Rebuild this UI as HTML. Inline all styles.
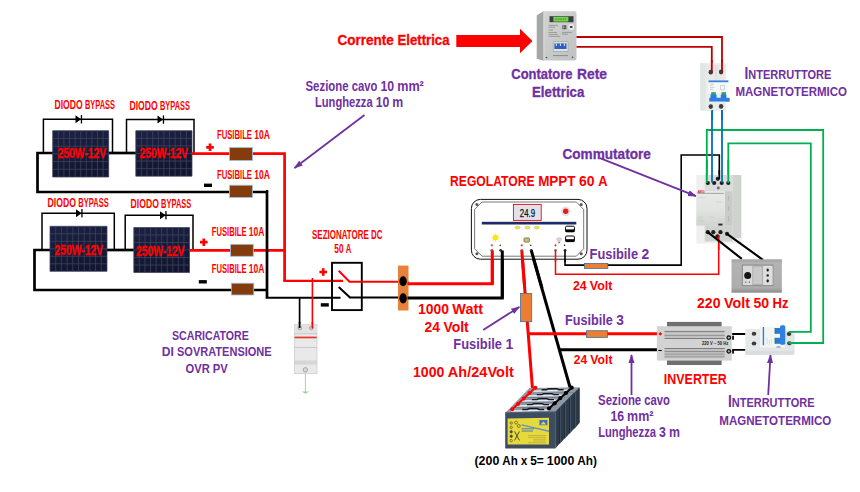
<!DOCTYPE html>
<html lang="it"><head><meta charset="utf-8"><title>Schema impianto fotovoltaico</title>
<style>
html,body{margin:0;padding:0;background:#fff;}
body{width:860px;height:492px;overflow:hidden;}
svg{display:block;font-family:"Liberation Sans",sans-serif;}
</style></head><body>
<svg width="860" height="492" viewBox="0 0 860 492">
<defs>
<pattern id="cells" x="0" y="0" width="5.6" height="7.75" patternUnits="userSpaceOnUse">
<rect width="5.6" height="7.75" fill="#4b5168"/>
<rect x="0.55" y="0.55" width="4.5" height="6.65" fill="#171c3a"/>
</pattern>
<linearGradient id="gpan" x1="0" y1="0" x2="0.3" y2="1"><stop offset="0" stop-color="#1c2242"/><stop offset="1" stop-color="#121630"/></linearGradient>
<linearGradient id="gmeter" x1="0" y1="0" x2="1" y2="1"><stop offset="0" stop-color="#d4d6d5"/><stop offset="0.5" stop-color="#c9cccb"/><stop offset="1" stop-color="#bfc2c1"/></linearGradient>
</defs>
<rect width="860" height="492" fill="#fff"/>

<g fill="none" stroke="#000" stroke-width="2.7" stroke-linejoin="miter">
<path d="M53 153H37.5V192H267"/>
<path d="M108 153H136"/>
<path d="M50 250H34.5V290H267"/>
<path d="M107 250H134"/>
</g>
<g fill="none" stroke="#000" stroke-width="1.5">
<path d="M43.4 153V119.3H112.5V153"/>
<path d="M126.5 153V119.6H194V153"/>
<path d="M42 250V213.2H114.3V250"/>
<path d="M125.2 250V215.2H193V250"/>
</g>
<path d="M75.5 115.3L81.0 119.3L75.5 123.3Z" fill="#000"/><rect x="80.8" y="115.1" width="1.3" height="8.4" fill="#000"/>
<path d="M157.5 115.6L163.0 119.6L157.5 123.6Z" fill="#000"/><rect x="162.8" y="115.39999999999999" width="1.3" height="8.4" fill="#000"/>
<path d="M76 209.2L81.5 213.2L76 217.2Z" fill="#000"/><rect x="81.3" y="209.0" width="1.3" height="8.4" fill="#000"/>
<path d="M160 211.2L165.5 215.2L160 219.2Z" fill="#000"/><rect x="165.3" y="211.0" width="1.3" height="8.4" fill="#000"/>
<g transform="translate(52.7,130.7)"><rect width="56.0" height="46.30000000000001" fill="url(#gpan)"/>
<path d="M0.00 0V46.30000000000001M5.60 0V46.30000000000001M11.20 0V46.30000000000001M16.80 0V46.30000000000001M22.40 0V46.30000000000001M28.00 0V46.30000000000001M33.60 0V46.30000000000001M39.20 0V46.30000000000001M44.80 0V46.30000000000001M50.40 0V46.30000000000001M56.00 0V46.30000000000001M0 0.00H56.0M0 7.72H56.0M0 15.43H56.0M0 23.15H56.0M0 30.87H56.0M0 38.58H56.0M0 46.30H56.0" stroke="#3f4560" stroke-width="0.75" fill="none"/></g>
<g transform="translate(135.8,130.7)"><rect width="56.19999999999999" height="45.5" fill="url(#gpan)"/>
<path d="M0.00 0V45.5M5.62 0V45.5M11.24 0V45.5M16.86 0V45.5M22.48 0V45.5M28.10 0V45.5M33.72 0V45.5M39.34 0V45.5M44.96 0V45.5M50.58 0V45.5M56.20 0V45.5M0 0.00H56.19999999999999M0 7.58H56.19999999999999M0 15.17H56.19999999999999M0 22.75H56.19999999999999M0 30.33H56.19999999999999M0 37.92H56.19999999999999M0 45.50H56.19999999999999" stroke="#3f4560" stroke-width="0.75" fill="none"/></g>
<g transform="translate(50,226.3)"><rect width="57" height="45.0" fill="url(#gpan)"/>
<path d="M0.00 0V45.0M5.70 0V45.0M11.40 0V45.0M17.10 0V45.0M22.80 0V45.0M28.50 0V45.0M34.20 0V45.0M39.90 0V45.0M45.60 0V45.0M51.30 0V45.0M57.00 0V45.0M0 0.00H57M0 7.50H57M0 15.00H57M0 22.50H57M0 30.00H57M0 37.50H57M0 45.00H57" stroke="#3f4560" stroke-width="0.75" fill="none"/></g>
<g transform="translate(133.8,227.5)"><rect width="55.69999999999999" height="45.0" fill="url(#gpan)"/>
<path d="M0.00 0V45.0M5.57 0V45.0M11.14 0V45.0M16.71 0V45.0M22.28 0V45.0M27.85 0V45.0M33.42 0V45.0M38.99 0V45.0M44.56 0V45.0M50.13 0V45.0M55.70 0V45.0M0 0.00H55.69999999999999M0 7.50H55.69999999999999M0 15.00H55.69999999999999M0 22.50H55.69999999999999M0 30.00H55.69999999999999M0 37.50H55.69999999999999M0 45.00H55.69999999999999" stroke="#3f4560" stroke-width="0.75" fill="none"/></g>
<g fill="none" stroke="#FF0000" stroke-width="2.7">
<path d="M191.5 153.7H284.6V280.7"/>
<path d="M283.3 280.9H343" stroke-width="2.1"/>
<path d="M189 250.3H284.6"/>
</g>
<g fill="none" stroke="#000" stroke-width="2.7">
<path d="M266 191.3H267V297.8"/>
<path d="M265.7 297.8H340.5" stroke-width="2.1"/>
<path d="M266 289.6H267"/>
</g>
<rect x="229.5" y="147.5" width="23.0" height="13.0" fill="#843C0C" stroke="#9DC3E6" stroke-width="0.8"/>
<rect x="229.5" y="185.2" width="23.0" height="12.300000000000011" fill="#843C0C" stroke="#9DC3E6" stroke-width="0.8"/>
<rect x="230.5" y="244.3" width="22.80000000000001" height="12.0" fill="#843C0C" stroke="#9DC3E6" stroke-width="0.8"/>
<rect x="231.3" y="283.2" width="22.5" height="11.800000000000011" fill="#843C0C" stroke="#9DC3E6" stroke-width="0.8"/>
<path d="M206.2 147.3H213.8M210 143.5V151.10000000000002" stroke="#FF0000" stroke-width="2.7" fill="none"/>
<path d="M204 185.3H212" stroke="#000" stroke-width="3.4" fill="none"/>
<path d="M200.0 242.2H207.60000000000002M203.8 238.39999999999998V246.0" stroke="#FF0000" stroke-width="2.7" fill="none"/>
<path d="M198.8 281.8H206.8" stroke="#000" stroke-width="3.4" fill="none"/>
<path d="M319.4 272H327.0M323.2 268.2V275.8" stroke="#FF0000" stroke-width="2.7" fill="none"/>
<path d="M320.8 304.9H328.8" stroke="#000" stroke-width="3.4" fill="none"/>
<text x="57.50" y="158.00" font-size="14.6" fill="#FF0000" font-weight="bold" textLength="48.80" lengthAdjust="spacingAndGlyphs" stroke="#FF0000" stroke-width="0.35">250W-12V</text>
<text x="139.50" y="158.00" font-size="14.6" fill="#FF0000" font-weight="bold" textLength="48.50" lengthAdjust="spacingAndGlyphs" stroke="#FF0000" stroke-width="0.35">250W-12V</text>
<text x="54.50" y="254.80" font-size="14.6" fill="#FF0000" font-weight="bold" textLength="48.50" lengthAdjust="spacingAndGlyphs" stroke="#FF0000" stroke-width="0.35">250W-12V</text>
<text x="136.00" y="255.80" font-size="14.6" fill="#FF0000" font-weight="bold" textLength="48.50" lengthAdjust="spacingAndGlyphs" stroke="#FF0000" stroke-width="0.35">250W-12V</text>
<g font-size="12.3" fill="#FF0000" font-weight="bold">
<text x="54.50" y="108.80" textLength="28.25" lengthAdjust="spacingAndGlyphs">DIODO</text>
<text x="84.97" y="108.80" textLength="30.03" lengthAdjust="spacingAndGlyphs">BYPASS</text>
</g>
<g font-size="12.3" fill="#FF0000" font-weight="bold">
<text x="129.50" y="110.30" textLength="28.25" lengthAdjust="spacingAndGlyphs">DIODO</text>
<text x="159.97" y="110.30" textLength="30.03" lengthAdjust="spacingAndGlyphs">BYPASS</text>
</g>
<g font-size="12.3" fill="#FF0000" font-weight="bold">
<text x="47.50" y="207.30" textLength="28.62" lengthAdjust="spacingAndGlyphs">DIODO</text>
<text x="78.37" y="207.30" textLength="30.43" lengthAdjust="spacingAndGlyphs">BYPASS</text>
</g>
<g font-size="12.3" fill="#FF0000" font-weight="bold">
<text x="130.50" y="208.00" textLength="28.39" lengthAdjust="spacingAndGlyphs">DIODO</text>
<text x="161.12" y="208.00" textLength="30.18" lengthAdjust="spacingAndGlyphs">BYPASS</text>
</g>
<g font-size="12.3" fill="#FF0000" font-weight="bold">
<text x="217.00" y="139.20" textLength="35.00" lengthAdjust="spacingAndGlyphs">FUSIBILE</text>
<text x="254.20" y="139.20" textLength="15.80" lengthAdjust="spacingAndGlyphs">10A</text>
</g>
<g font-size="12.3" fill="#FF0000" font-weight="bold">
<text x="217.00" y="178.50" textLength="35.00" lengthAdjust="spacingAndGlyphs">FUSIBILE</text>
<text x="254.20" y="178.50" textLength="15.80" lengthAdjust="spacingAndGlyphs">10A</text>
</g>
<g font-size="12.3" fill="#FF0000" font-weight="bold">
<text x="211.80" y="235.50" textLength="34.80" lengthAdjust="spacingAndGlyphs">FUSIBILE</text>
<text x="248.79" y="235.50" textLength="15.71" lengthAdjust="spacingAndGlyphs">10A</text>
</g>
<g font-size="12.3" fill="#FF0000" font-weight="bold">
<text x="211.80" y="272.90" textLength="34.80" lengthAdjust="spacingAndGlyphs">FUSIBILE</text>
<text x="248.79" y="272.90" textLength="15.71" lengthAdjust="spacingAndGlyphs">10A</text>
</g>
<rect x="332" y="262.8" width="29.8" height="47.3" fill="none" stroke="#000" stroke-width="1.9"/>
<path d="M338.7 270.7L350 282.3" stroke="#FF0000" stroke-width="2" fill="none"/>
<path d="M349.5 281.8H408.5" stroke="#FF0000" stroke-width="1.9" fill="none"/>
<path d="M338.7 287L350.5 298" stroke="#000" stroke-width="2" fill="none"/>
<path d="M350 297.5H399" stroke="#000" stroke-width="2" fill="none"/>
<g font-size="12.3" fill="#FF0000" font-weight="bold">
<text x="312.00" y="238.60" textLength="56.82" lengthAdjust="spacingAndGlyphs">SEZIONATORE</text>
<text x="371.06" y="238.60" textLength="11.44" lengthAdjust="spacingAndGlyphs">DC</text>
</g>
<g font-size="12.3" fill="#FF0000" font-weight="bold">
<text x="334.30" y="252.80" textLength="9.34" lengthAdjust="spacingAndGlyphs">50</text>
<text x="345.72" y="252.80" textLength="5.58" lengthAdjust="spacingAndGlyphs">A</text>
</g>
<path d="M299.6 298V328" stroke="#000" stroke-width="1.7"/>
<path d="M312.4 278V328" stroke="#FF0000" stroke-width="1.6"/>
<g><rect x="294.3" y="324.2" width="22.7" height="49.5" fill="#e9e9e9" stroke="#c4c4c4" stroke-width="0.6"/>
<rect x="294.3" y="324.2" width="22.7" height="9.5" fill="#e2e2e2"/>
<rect x="294.6" y="336.6" width="22.1" height="1.7" fill="#e8352a"/>
<path d="M294.3 333.8H317M294.3 347.5H317M294.3 361.2H317M294.3 363.8H317" stroke="#bdbdbd" stroke-width="0.7" fill="none"/>
<rect x="294.3" y="361.2" width="22.7" height="2.6" fill="#d6d6d6"/>
<circle cx="299.8" cy="328" r="1.9" fill="#cfcfcf" stroke="#8d8d8d" stroke-width="0.6"/><circle cx="311.3" cy="328" r="1.9" fill="#cfcfcf" stroke="#8d8d8d" stroke-width="0.6"/>
<circle cx="305.4" cy="369.8" r="2.2" fill="#d9d9d9" stroke="#8d8d8d" stroke-width="0.7"/></g>
<path d="M299.6 322V328" stroke="#000" stroke-width="1.7"/>
<path d="M312.4 322V328.5" stroke="#FF0000" stroke-width="1.6"/>
<path d="M305.4 373.8V392" stroke="#9fd09a" stroke-width="0.9"/><path d="M301.6 391.6H309.2L305.4 393.8Z" fill="#9fd09a"/>
<text x="172.00" y="339.90" font-size="12.6" fill="#7030A0" font-weight="bold" textLength="76.80" lengthAdjust="spacingAndGlyphs">SCARICATORE</text>
<g font-size="12.6" fill="#7030A0" font-weight="bold">
<text x="161.80" y="355.90" textLength="12.11" lengthAdjust="spacingAndGlyphs">DI</text>
<text x="176.96" y="355.90" textLength="94.74" lengthAdjust="spacingAndGlyphs">SOVRATENSIONE</text>
</g>
<g font-size="12.6" fill="#7030A0" font-weight="bold">
<text x="185.60" y="372.70" textLength="24.23" lengthAdjust="spacingAndGlyphs">OVR</text>
<text x="212.85" y="372.70" textLength="14.95" lengthAdjust="spacingAndGlyphs">PV</text>
</g>
<rect x="398" y="265.6" width="10.5" height="44.9" fill="#E8813B"/>
<ellipse cx="403.1" cy="281.2" rx="3.7" ry="5" fill="#000"/><ellipse cx="403.1" cy="298.3" rx="3.7" ry="5.1" fill="#000"/>
<path d="M407.5 283.7H492.3V251" stroke="#FF0000" stroke-width="3" fill="none"/>
<path d="M407.5 298H502.3V251" stroke="#000" stroke-width="3" fill="none"/>
<path d="M521.8 251L532.5 389" stroke="#FF0000" stroke-width="3" fill="none"/>
<path d="M531.3 251L570.5 389" stroke="#000" stroke-width="3" fill="none"/>
<path d="M527.8 333.8H657" stroke="#FF0000" stroke-width="3" fill="none"/>
<path d="M559.5 349.7H658" stroke="#000" stroke-width="3" fill="none"/>
<path d="M555.5 251V274.2H718.7V236" stroke="#FF0000" stroke-width="1.5" fill="none"/>
<path d="M565 251V265.1H681.2V155H719.3V179" stroke="#000" stroke-width="1.6" fill="none"/>
<rect x="520.6" y="293.4" width="11.100000000000023" height="28.30000000000001" fill="#ED7D31" stroke="#41719C" stroke-width="0.8"/>
<rect x="584.4" y="263.4" width="23.399999999999977" height="5.0" fill="#ED7D31" stroke="#41719C" stroke-width="0.8"/>
<rect x="586.4" y="330.7" width="21.0" height="6.699999999999989" fill="#ED7D31" stroke="#41719C" stroke-width="0.8"/>
<g>
<rect x="471.4" y="199.4" width="115.6" height="59.8" rx="9" ry="9" fill="#fff" stroke="#111" stroke-width="1"/>
<path d="M482 202H576.3L583.7 209.5V248.7L576.3 256.2H482L474.6 248.7V209.5Z" fill="#fff" stroke="#555" stroke-width="0.8"/>
<circle cx="476.9" cy="204.6" r="1.5" fill="#555"/>
<circle cx="581.2" cy="204.6" r="1.5" fill="#555"/>
<circle cx="476.9" cy="253.8" r="1.5" fill="#555"/>
<circle cx="581.2" cy="253.8" r="1.5" fill="#555"/>
<rect x="513.4" y="204.4" width="27.8" height="16" fill="#dfe3ee" stroke="#FF0000" stroke-width="0.9"/>
<text x="519.80" y="217.20" font-size="11" fill="#111" font-weight="normal" textLength="15.40" lengthAdjust="spacingAndGlyphs" stroke="#111" stroke-width="0.25">24.9</text>
<circle cx="565.7" cy="211.3" r="4.8" fill="#e2e2e2"/><circle cx="565.7" cy="211.3" r="2.7" fill="#f01818"/>
<rect x="481.8" y="221.8" width="94.5" height="2.7" fill="#1b2a6b"/>
<ellipse cx="517.5" cy="227.6" rx="2.5" ry="1.4" fill="#f2ea2a" stroke="#9a9a60" stroke-width="0.4"/>
<ellipse cx="527.5" cy="227.6" rx="2.5" ry="1.4" fill="#f2ea2a" stroke="#9a9a60" stroke-width="0.4"/>
<ellipse cx="536.8" cy="227.6" rx="2.5" ry="1.4" fill="#f2ea2a" stroke="#9a9a60" stroke-width="0.4"/>
<rect x="565.6" y="226.2" width="8.8" height="5.6" rx="1" fill="#fff" stroke="#000" stroke-width="1"/><rect x="565.6" y="229.39999999999998" width="8.8" height="2.6" fill="#000"/>
<rect x="565.6" y="236" width="8.8" height="5.6" rx="1" fill="#fff" stroke="#000" stroke-width="1"/><rect x="565.6" y="239.2" width="8.8" height="2.6" fill="#000"/>
<g stroke="#fbe800" stroke-width="0.9"><circle cx="495.6" cy="237.7" r="2.3" fill="#fbe800"/><path d="M495.5 233.6V241.6M491.5 237.6H499.5M492.7 234.8L498.3 240.4M498.3 234.8L492.7 240.4"/></g>
<rect x="524" y="237.9" width="5.4" height="4.2" rx="0.6" fill="#cdbf63" stroke="#6d6d6d" stroke-width="0.8"/>
<path d="M556 239.2A3.1 2 0 0 1 562.2 239.2L560.1 242H558.1Z" fill="#d4d4d4"/><rect x="558.1" y="241.8" width="2" height="1.5" fill="#8a8a8a"/>
<path d="M490.6 245.3H493.0M491.8 244.1V246.5" stroke="#FF0000" stroke-width="0.7"/>
<circle cx="500.2" cy="245.2" r="0.7" fill="#000"/>
<circle cx="491.8" cy="250.3" r="1.4" fill="#777"/><circle cx="500.7" cy="250.3" r="1.4" fill="#333"/>
<path d="M520.5999999999999 245.3H523.0M521.8 244.1V246.5" stroke="#FF0000" stroke-width="0.7"/>
<circle cx="530.8" cy="245.2" r="0.7" fill="#000"/>
<circle cx="521.8" cy="250.3" r="1.4" fill="#777"/><circle cx="531.3" cy="250.3" r="1.4" fill="#333"/>
<path d="M554.3 245.3H556.7M555.5 244.1V246.5" stroke="#FF0000" stroke-width="0.7"/>
<circle cx="564.6" cy="245.2" r="0.7" fill="#000"/>
<circle cx="555.5" cy="250.3" r="1.4" fill="#777"/><circle cx="565.1" cy="250.3" r="1.4" fill="#333"/>
</g>
<path d="M492.3 283.7V250.5" stroke="#FF0000" stroke-width="3" fill="none"/>
<path d="M502.3 298V250.5" stroke="#000" stroke-width="3" fill="none"/>
<path d="M521.8 250.5L524.7 288" stroke="#FF0000" stroke-width="3" fill="none"/>
<path d="M531.3 250.5L542 288" stroke="#000" stroke-width="3" fill="none"/>
<path d="M555.5 250.5V262" stroke="#FF0000" stroke-width="1.5" fill="none"/>
<path d="M565 250.5V262" stroke="#000" stroke-width="1.6" fill="none"/>
<g font-size="13.8" fill="#FF0000" font-weight="bold">
<text x="450.00" y="185.70" textLength="84.66" lengthAdjust="spacingAndGlyphs">REGOLATORE</text>
<text x="538.14" y="185.70" textLength="37.45" lengthAdjust="spacingAndGlyphs">MPPT</text>
<text x="579.07" y="185.70" textLength="15.62" lengthAdjust="spacingAndGlyphs">60</text>
<text x="598.17" y="185.70" textLength="9.33" lengthAdjust="spacingAndGlyphs">A</text>
</g>
<g font-size="13.8" fill="#7030A0" font-weight="bold">
<text x="589.60" y="259.00" textLength="48.49" lengthAdjust="spacingAndGlyphs">Fusibile</text>
<text x="641.55" y="259.00" textLength="7.75" lengthAdjust="spacingAndGlyphs">2</text>
</g>
<g font-size="13.1" fill="#FF0000" font-weight="bold">
<text x="573.00" y="289.90" textLength="13.74" lengthAdjust="spacingAndGlyphs">24</text>
<text x="589.80" y="289.90" textLength="22.70" lengthAdjust="spacingAndGlyphs">Volt</text>
</g>
<g font-size="13.8" fill="#FF0000" font-weight="bold">
<text x="418.00" y="313.70" textLength="30.90" lengthAdjust="spacingAndGlyphs">1000</text>
<text x="452.35" y="313.70" textLength="30.65" lengthAdjust="spacingAndGlyphs">Watt</text>
</g>
<g font-size="13.8" fill="#FF0000" font-weight="bold">
<text x="424.60" y="331.60" textLength="15.37" lengthAdjust="spacingAndGlyphs">24</text>
<text x="443.40" y="331.60" textLength="25.40" lengthAdjust="spacingAndGlyphs">Volt</text>
</g>
<g font-size="13.8" fill="#7030A0" font-weight="bold">
<text x="453.30" y="348.60" textLength="48.74" lengthAdjust="spacingAndGlyphs">Fusibile</text>
<text x="505.51" y="348.60" textLength="7.79" lengthAdjust="spacingAndGlyphs">1</text>
</g>
<g font-size="13.8" fill="#FF0000" font-weight="bold">
<text x="413.00" y="376.60" textLength="31.37" lengthAdjust="spacingAndGlyphs">1000</text>
<text x="447.87" y="376.60" textLength="65.93" lengthAdjust="spacingAndGlyphs">Ah/24Volt</text>
</g>
<g font-size="13.8" fill="#7030A0" font-weight="bold">
<text x="565.00" y="324.50" textLength="47.76" lengthAdjust="spacingAndGlyphs">Fusibile</text>
<text x="616.17" y="324.50" textLength="7.63" lengthAdjust="spacingAndGlyphs">3</text>
</g>
<g font-size="13.1" fill="#FF0000" font-weight="bold">
<text x="573.80" y="364.20" textLength="13.46" lengthAdjust="spacingAndGlyphs">24</text>
<text x="590.26" y="364.20" textLength="22.24" lengthAdjust="spacingAndGlyphs">Volt</text>
</g>
<defs><marker id="ah" viewBox="0 0 10 10" refX="9" refY="5" markerWidth="5" markerHeight="5" orient="auto-start-reverse"><path d="M0 1.6L10 5L0 8.4Z" fill="#7030A0"/></marker></defs>
<path d="M364.5 115L294.5 168" stroke="#7030A0" stroke-width="1.8" fill="none" marker-end="url(#ah)"/>
<path d="M483.2 330L519.3 307" stroke="#7030A0" stroke-width="1.8" fill="none" marker-end="url(#ah)"/>
<path d="M631.5 395L631.5 355" stroke="#7030A0" stroke-width="1.8" fill="none" marker-end="url(#ah)"/>
<path d="M768.2 395L770.5 355" stroke="#7030A0" stroke-width="1.8" fill="none" marker-end="url(#ah)"/>
<path d="M600 158.2L696 196.2" stroke="#7030A0" stroke-width="1.8" fill="none" marker-end="url(#ah)"/>
<g>
<path d="M524.6 393.0L574.7 392.1L579.5 387.2L529.5 388.1Z" fill="#8f9aa6"/>
<path d="M530.6 391.2L568.7 390.3" stroke="#e6eaee" stroke-width="1.5"/>
<path d="M541.6 389.7h5l2 -1h8l2 1h5" stroke="#15191e" stroke-width="1.4" fill="none"/>
<path d="M574.7 392.1L579.5 387.2V423.1L574.7 428.6Z" fill="#2d3a49"/>
<path d="M524.6 393.0L574.7 392.1V428.6H524.6Z" fill="#3d4c5e"/>
<path d="M575.0 392.6V428.1" stroke="#5b6d82" stroke-width="0.8"/>
<path d="M579.1 388.2V422.7" stroke="#1d2731" stroke-width="0.8"/>
<path d="M519.8 397.9L569.8 397.0L574.7 392.2L524.6 393.1Z" fill="#8f9aa6"/>
<path d="M525.8 396.1L563.8 395.2" stroke="#e6eaee" stroke-width="1.5"/>
<path d="M536.8 394.6h5l2 -1h8l2 1h5" stroke="#15191e" stroke-width="1.4" fill="none"/>
<path d="M569.8 397.0L574.7 392.2V428.1L569.8 433.5Z" fill="#2d3a49"/>
<path d="M519.8 397.9L569.8 397.0V433.5H519.8Z" fill="#3d4c5e"/>
<path d="M570.1 397.5V433.0" stroke="#5b6d82" stroke-width="0.8"/>
<path d="M574.3 393.2V427.7" stroke="#1d2731" stroke-width="0.8"/>
<path d="M514.9 402.9L565.0 402.0L569.9 397.1L519.8 398.1Z" fill="#8f9aa6"/>
<path d="M520.9 401.1L559.0 400.2" stroke="#e6eaee" stroke-width="1.5"/>
<path d="M531.9 399.6h5l2 -1h8l2 1h5" stroke="#15191e" stroke-width="1.4" fill="none"/>
<path d="M565.0 402.0L569.9 397.1V433.0L565.0 438.5Z" fill="#2d3a49"/>
<path d="M514.9 402.9L565.0 402.0V438.5H514.9Z" fill="#3d4c5e"/>
<path d="M565.3 402.5V438.0" stroke="#5b6d82" stroke-width="0.8"/>
<path d="M569.5 398.1V432.6" stroke="#1d2731" stroke-width="0.8"/>
<path d="M510.1 407.9L560.1 406.9L565.0 402.1L514.9 403.0Z" fill="#8f9aa6"/>
<path d="M516.0 406.1L554.1 405.1" stroke="#e6eaee" stroke-width="1.5"/>
<path d="M527.0 404.6h5l2 -1h8l2 1h5" stroke="#15191e" stroke-width="1.4" fill="none"/>
<path d="M560.1 406.9L565.0 402.1V438.0L560.1 443.4Z" fill="#2d3a49"/>
<path d="M510.1 407.9L560.1 406.9V443.4H510.1Z" fill="#3d4c5e"/>
<path d="M560.4 407.4V442.9" stroke="#5b6d82" stroke-width="0.8"/>
<path d="M564.6 403.1V437.6" stroke="#1d2731" stroke-width="0.8"/>
<path d="M505.2 412.8L555.3 411.9L560.1 407.0L510.1 407.9Z" fill="#8f9aa6"/>
<path d="M511.2 411.0L549.3 410.1" stroke="#e6eaee" stroke-width="1.5"/>
<path d="M522.2 409.5h5l2 -1h8l2 1h5" stroke="#15191e" stroke-width="1.4" fill="none"/>
<path d="M555.3 411.9L560.1 407.0V442.9L555.3 448.4Z" fill="#2d3a49"/>
<path d="M505.2 412.8L555.3 411.9V448.4H505.2Z" fill="#3d4c5e"/>
<path d="M555.6 412.4V447.9" stroke="#5b6d82" stroke-width="0.8"/>
<path d="M559.8 408.0V442.5" stroke="#1d2731" stroke-width="0.8"/>
<path d="M505.2 412.8L555.3 411.9" stroke="#4f6074" stroke-width="1.2"/>
<path d="M507.6 418.6L549 417.8V444.6H507.6Z" fill="#e7d83c"/>
<path d="M521.5 424.2L549 430.6V432L521.5 425.6Z" fill="#5b8fd0"/>
<rect x="539.4" y="420" width="8" height="5.2" fill="#3d6fc4"/><path d="M540.5 424.6L543.4 421.5L546.3 424.6Z" fill="#e7d83c"/>
<g fill="none" stroke="#3f4230" stroke-width="0.6"><circle cx="511.2" cy="423" r="1.2"/><circle cx="511.2" cy="427.4" r="1.2"/><circle cx="511.2" cy="431.8" r="1.2" fill="#3b4a7a"/><circle cx="511.2" cy="436.2" r="1.2" fill="#3b4a7a"/><circle cx="511.2" cy="440.6" r="1.2"/><path d="M514.6 431.4L519.4 440.4M519.4 431.4L514.6 440.4" stroke-width="0.9"/><circle cx="516" cy="422.6" r="1.5"/><circle cx="518.8" cy="426" r="1.5"/></g>
<path d="M521.5 428.8H534M521.5 431H533" stroke="#3d6fc4" stroke-width="0.9"/>
<path d="M528 435.5H546M528 437.3H546M533 439.2H546M533 441H546M528 442.8H546" stroke="#9c9440" stroke-width="0.5"/>
<path d="M535.4 387.7L512.2 409.3" stroke="#FF0000" stroke-width="2" fill="none"/>
<path d="M571.7 387.7L549 408.5" stroke="#000" stroke-width="2" fill="none"/>
<circle cx="512.2" cy="409.3" r="2" fill="#FF0000"/>
<circle cx="549.0" cy="408.5" r="2.1" fill="#000"/>
<circle cx="518.0" cy="403.9" r="2" fill="#FF0000"/>
<circle cx="554.7" cy="403.3" r="2.1" fill="#000"/>
<circle cx="523.8" cy="398.5" r="2" fill="#FF0000"/>
<circle cx="560.3" cy="398.1" r="2.1" fill="#000"/>
<circle cx="529.6" cy="393.1" r="2" fill="#FF0000"/>
<circle cx="566.0" cy="392.9" r="2.1" fill="#000"/>
<circle cx="535.4" cy="387.7" r="2" fill="#FF0000"/>
<circle cx="571.7" cy="387.7" r="2.1" fill="#000"/>
</g>
<g font-size="13.1" fill="#000" font-weight="bold">
<text x="474.50" y="465.00" textLength="24.80" lengthAdjust="spacingAndGlyphs">(200</text>
<text x="502.36" y="465.00" textLength="15.46" lengthAdjust="spacingAndGlyphs">Ah</text>
<text x="520.88" y="465.00" textLength="6.22" lengthAdjust="spacingAndGlyphs">x</text>
<text x="530.16" y="465.00" textLength="13.60" lengthAdjust="spacingAndGlyphs">5=</text>
<text x="546.82" y="465.00" textLength="27.44" lengthAdjust="spacingAndGlyphs">1000</text>
<text x="577.32" y="465.00" textLength="19.68" lengthAdjust="spacingAndGlyphs">Ah)</text>
</g>
<g>
<rect x="667" y="321.9" width="54.6" height="43.1" fill="#6f6f6f"/>
<rect x="656.9" y="326.2" width="74.9" height="34.4" fill="#d3d3d3"/>
<path d="M664.5 331.4H724.7M664.5 335.7H724.7M664.5 338.5H724.7M664.5 348.5H724.7M664.5 351.3H724.7M664.5 354.1H724.7M664.5 356.9H724.7" stroke="#7d7d7d" stroke-width="1" fill="none"/>
<path d="M664.5 332.6H724.7M664.5 334.5H724.7M664.5 337.1H724.7M664.5 349.9H724.7M664.5 352.7H724.7M664.5 355.5H724.7" stroke="#bdbdbd" stroke-width="1.3" fill="none"/>
<text x="702" y="344.8" font-size="5" font-weight="bold" fill="#222" textLength="26.3" lengthAdjust="spacingAndGlyphs">220 V ~ 50 Hz</text>
<path d="M660.3 331.9L662.1 333.8L660.3 335.7L658.5 333.8Z" fill="#FF0000"/>
<path d="M658.4 350.5H661.7" stroke="#000" stroke-width="1.1"/>
<circle cx="728.8" cy="337.7" r="2.4" fill="#111"/><circle cx="728.8" cy="351.3" r="2.4" fill="#111"/>
<path d="M727.6 337.7H730M728.8 336.5V338.9M727.6 351.3H730M728.8 350.1V352.5" stroke="#ddd" stroke-width="0.7"/>
</g>
<path d="M732.2 334H745.5M732.2 349.9H745.5" stroke="#000" stroke-width="1.9" fill="none"/>
<rect x="732.2" y="335.7" width="1.7" height="4.1" fill="#000"/><rect x="732.2" y="349.7" width="1.7" height="3.9" fill="#000"/>
<text x="663.80" y="384.40" font-size="13.8" fill="#FF0000" font-weight="bold" textLength="63.00" lengthAdjust="spacingAndGlyphs">INVERTER</text>
<g font-size="13.8" fill="#FF0000" font-weight="bold">
<text x="697.00" y="307.90" textLength="23.52" lengthAdjust="spacingAndGlyphs">220</text>
<text x="724.02" y="307.90" textLength="25.90" lengthAdjust="spacingAndGlyphs">Volt</text>
<text x="753.42" y="307.90" textLength="15.68" lengthAdjust="spacingAndGlyphs">50</text>
<text x="772.59" y="307.90" textLength="15.91" lengthAdjust="spacingAndGlyphs">Hz</text>
</g>
<g>
<rect x="745.4" y="329.1" width="15" height="25.7" fill="#e6e9e9"/>
<rect x="745.4" y="350.8" width="49" height="4" fill="#d9dddd"/>
<rect x="785" y="330.7" width="9.6" height="20.5" fill="#e3e6e6"/>
<rect x="760" y="326.5" width="25.2" height="21.2" fill="#f3f5f5"/>
<rect x="760" y="347.4" width="25.2" height="3.6" fill="#e4e7e7"/>
<rect x="762.7" y="327" width="1.4" height="18.3" fill="#3a7bd5"/>
<path d="M767 338V344M769.5 340V345M771.5 339V343" stroke="#c3cbd6" stroke-width="0.5"/>
<rect x="774.6" y="328" width="1.4" height="5.8" fill="#1f8a3a"/><rect x="774.6" y="337.8" width="1.4" height="6" fill="#1f8a3a"/>
<rect x="775.6" y="328" width="5.4" height="5.8" fill="#2b78dc"/><rect x="775.6" y="337.8" width="5.4" height="6" fill="#2b78dc"/>
<rect x="780" y="325.2" width="5.3" height="19.6" rx="1.6" fill="#2f80e0"/>
<rect x="776.5" y="346.5" width="4" height="1" fill="#4a7fd0"/>
<ellipse cx="754" cy="333.8" rx="2.3" ry="2" fill="#3a3d3d"/>
<ellipse cx="754" cy="343.5" rx="2.3" ry="2" fill="#3a3d3d"/>
<ellipse cx="789" cy="334.1" rx="2.3" ry="2" fill="#3a3d3d"/>
<ellipse cx="789.4" cy="343.3" rx="2.3" ry="2" fill="#3a3d3d"/>
</g>
<g fill="none" stroke="#00B050" stroke-width="1.8">
<path d="M788.5 331.8H810.8V143.3H728.3V182.5"/>
<path d="M788.5 343H823.2V130H706.8V182.5"/>
</g>
<text x="719.30" y="425.00" font-size="13.4" fill="#7030A0" font-weight="bold" textLength="112.00" lengthAdjust="spacingAndGlyphs">MAGNETOTERMICO</text>
<text y="407.4" fill="#7030A0" font-weight="bold" textLength="86.5" lengthAdjust="spacingAndGlyphs" x="728" font-size="13.4"><tspan font-size="16.8">I</tspan>NTERRUTTORE</text>
<defs><linearGradient id="gcom" x1="0" y1="0" x2="0" y2="1"><stop offset="0" stop-color="#e8e9e8"/><stop offset="0.55" stop-color="#e1e3e1"/><stop offset="1" stop-color="#d0d3d0"/></linearGradient></defs>
<g>
<rect x="696.3" y="175" width="45.7" height="68.5" fill="#eeefee"/>
<rect x="732.5" y="175" width="8.5" height="63" fill="#cfd2cf"/>
<rect x="704.7" y="175" width="27.8" height="16.5" fill="#dadcda"/>
<rect x="704.7" y="225.5" width="27.8" height="16" fill="#cfd3cf"/>
<rect x="725" y="191.3" width="7.5" height="34.3" fill="#c8cbc9"/>
<rect x="696.3" y="191.3" width="28.7" height="34.3" fill="url(#gcom)"/>
<path d="M697.5 193.4H724" stroke="#7f8f88" stroke-width="0.7"/>
<text x="697.4" y="193.1" font-size="3.2" font-weight="bold" fill="#d61f26" textLength="7.4" lengthAdjust="spacingAndGlyphs">AEG</text>
<rect x="718.3" y="223.6" width="4.2" height="1.9" fill="#2b2b2b"/>
<path d="M698 197.5H706M716 202H722M698 217H703M698 219H701M698 221H704M709 217H714" stroke="#c2c6c3" stroke-width="0.5"/>
<path d="M728.6 196V201M728.6 206V211M728.6 216V221" stroke="#b3b7b4" stroke-width="1"/>
<circle cx="707.8" cy="183" r="2.1" fill="#1e1e1e"/>
<circle cx="714.2" cy="183" r="2.1" fill="#1e1e1e"/>
<circle cx="721.7" cy="183" r="2.1" fill="#1e1e1e"/>
<circle cx="728.3" cy="183" r="2.1" fill="#1e1e1e"/>
<circle cx="717.8" cy="178.8" r="2.1" fill="#1e1e1e"/>
<circle cx="718.3" cy="188" r="1.4" fill="#666"/>
<circle cx="707.8" cy="232.2" r="2.1" fill="#1e1e1e"/>
<circle cx="713.3" cy="232.2" r="2.1" fill="#1e1e1e"/>
<circle cx="720.5" cy="232.2" r="2.1" fill="#1e1e1e"/>
<circle cx="727" cy="233.8" r="2.1" fill="#1e1e1e"/>
<circle cx="717.5" cy="236.3" r="2.1" fill="#1e1e1e"/>
</g>
<g fill="none" stroke="#00B050" stroke-width="1.8"><path d="M728.3 160V183M706.8 160V183"/></g>
<g fill="none" stroke="#0070C0" stroke-width="1.8"><path d="M712 110V182.5M722 110V182.5"/></g>
<path d="M719.3 170V179" stroke="#000" stroke-width="1.6"/>
<path d="M718.7 250V235.5" stroke="#FF0000" stroke-width="1.6"/>
<path d="M707.8 232.2L741.8 258.9M727 233.8L762.9 259.8" stroke="#000" stroke-width="2.1" fill="none"/>
<text x="562.50" y="159.40" font-size="14.0" fill="#7030A0" font-weight="bold" textLength="88.30" lengthAdjust="spacingAndGlyphs" stroke="#7030A0" stroke-width="0.3">Commutatore</text>
<defs><linearGradient id="gsock" x1="0" y1="0" x2="0" y2="1"><stop offset="0" stop-color="#a2a2a2"/><stop offset="0.12" stop-color="#b3b3b3"/><stop offset="0.85" stop-color="#adadad"/><stop offset="1" stop-color="#8c8c8c"/></linearGradient></defs>
<g>
<rect x="731.5" y="259.3" width="50.4" height="33.4" fill="url(#gsock)"/>
<rect x="742.3" y="265.1" width="30.6" height="20.6" fill="#d6d6d6" stroke="#7c7c7c" stroke-width="0.8"/>
<rect x="743.2" y="266" width="8.9" height="18.8" fill="#dadada"/>
<rect x="752.9" y="266" width="9.5" height="18.8" fill="#c9c9c9" stroke="#8d8d8d" stroke-width="0.5"/>
<rect x="763.4" y="266" width="9.1" height="18.8" fill="#dedede"/>
<circle cx="747.7" cy="275.4" r="3.5" fill="#151515"/>
<circle cx="745.8" cy="282.1" r="0.6" fill="#333"/><circle cx="749.5" cy="282.1" r="0.6" fill="#333"/>
<ellipse cx="767.7" cy="270" rx="1.2" ry="1.6" fill="#1a1a1a"/><circle cx="767.7" cy="275.4" r="1.2" fill="#1a1a1a"/><ellipse cx="767.7" cy="280.8" rx="1.2" ry="1.6" fill="#1a1a1a"/>
</g>
<path d="M456.3 35H520V28.8L532.5 40.9L520 53.2V47H456.3Z" fill="#FF0000"/>
<text x="337.50" y="45.00" font-size="14.2" fill="#FF0000" font-weight="bold" textLength="56.30" lengthAdjust="spacingAndGlyphs" stroke="#FF0000" stroke-width="0.3">Corrente</text>
<text x="397.50" y="45.00" font-size="14.2" fill="#FF0000" font-weight="bold" textLength="52.00" lengthAdjust="spacingAndGlyphs" stroke="#FF0000" stroke-width="0.3">Elettrica</text>
<g>
<path d="M536.8 15.6L543.5 11.2H574.3Q576.5 11.2 576.5 13.4V58Q576.5 60.5 574 60.5H543.5L536.8 58.8Z" fill="url(#gmeter)"/>
<path d="M536.8 15.6L543.5 11.2V60.5L536.8 58.8Z" fill="#a4a7a5"/>
<path d="M543.9 11.6V60.2" stroke="#e3e5e4" stroke-width="0.7"/>
<rect x="549.5" y="16.2" width="24" height="6" fill="#3a3f3d"/>
<rect x="553.4" y="16.8" width="15" height="4.8" fill="#72d24c"/>
<path d="M555.5 19.2H566" stroke="#4da534" stroke-width="1.4" stroke-dasharray="1.6 0.8"/>
<path d="M548.6 25.4H558M548.6 27.2H555M548.6 30H553M548.6 32.5H557M548.6 34.5H558M548.6 36.4H560M562 32.4H572M562 34.2H568" stroke="#777a78" stroke-width="0.6"/>
<rect x="562.3" y="25.3" width="4" height="3.9" fill="#4c4f4d"/><path d="M563.6 25.3V29.2M562.3 27.2H566.3" stroke="#c9cbca" stroke-width="0.5"/>
<circle cx="571.2" cy="27" r="3" fill="#e9ebea"/><ellipse cx="571.2" cy="27" rx="1.5" ry="1.1" fill="#2a2c2b"/>
<rect x="553.2" y="41.8" width="14.8" height="9.6" fill="#e1e3e2" stroke="#9a9d9b" stroke-width="0.6"/>
<rect x="554.4" y="43.4" width="12.1" height="5.6" fill="#2e5fc2"/>
<path d="M556.4 43.4V46M560.4 43.4V46M564.4 43.4V46" stroke="#dfe6f5" stroke-width="1"/>
<path d="M553 55.6H568" stroke="#6f7270" stroke-width="0.7"/>
<circle cx="546.5" cy="57.5" r="0.8" fill="#444"/><circle cx="572.5" cy="57.3" r="0.8" fill="#444"/>
</g>
<g fill="none" stroke="#C00000" stroke-width="1.8">
<path d="M576.5 37H722V72"/>
<path d="M576.5 46.8H711.8V72"/>
</g>
<text x="511.30" y="79.40" font-size="14.0" fill="#7030A0" font-weight="bold" textLength="61.20" lengthAdjust="spacingAndGlyphs" stroke="#7030A0" stroke-width="0.3">Contatore</text>
<text x="577.00" y="79.40" font-size="14.0" fill="#7030A0" font-weight="bold" textLength="30.00" lengthAdjust="spacingAndGlyphs" stroke="#7030A0" stroke-width="0.3">Rete</text>
<text x="532.00" y="96.60" font-size="14.0" fill="#7030A0" font-weight="bold" textLength="52.30" lengthAdjust="spacingAndGlyphs" stroke="#7030A0" stroke-width="0.3">Elettrica</text>
<g>
<rect x="700.3" y="62.9" width="25.4" height="47.7" rx="0.8" fill="#eceeed"/>
<rect x="700.3" y="62.9" width="5.3" height="47.7" fill="#e2e5e4"/>
<rect x="705.6" y="65" width="20.1" height="15.1" fill="#e7e9e8"/>
<path d="M716 65V80" stroke="#d2d5d4" stroke-width="0.6"/>
<rect x="708.5" y="80.1" width="19.9" height="13.4" fill="#f6f7f7"/>
<rect x="708.5" y="80.4" width="19.9" height="1.8" fill="#3b7dd8"/>
<path d="M710 84H714M710 85.8H713M710 87.6H714.5M710 89.4H713M720.5 85.5H724.5V89.8H720.5Z" stroke="#a5aeb8" stroke-width="0.5" fill="none"/>
<rect x="711.2" y="92.2" width="4.6" height="2.6" fill="#27a549"/><rect x="721.5" y="92.2" width="4.5" height="2.6" fill="#27a549"/>
<rect x="710.5" y="94.5" width="6" height="4.4" fill="#2b78dc"/><rect x="720.8" y="94.5" width="5.6" height="4.4" fill="#2b78dc"/>
<rect x="709.2" y="97.8" width="20.5" height="3.9" rx="0.8" fill="#2e7de0"/>
<rect x="705.6" y="101.7" width="20.1" height="8.9" fill="#e9ebea"/>
<ellipse cx="710.8" cy="72.2" rx="2.2" ry="2.4" fill="#3a3c3b"/>
<ellipse cx="721.1" cy="72" rx="2.2" ry="2.4" fill="#3a3c3b"/>
<ellipse cx="710.8" cy="106.6" rx="2.2" ry="2.4" fill="#3a3c3b"/>
<ellipse cx="721.1" cy="106.4" rx="2.2" ry="2.4" fill="#3a3c3b"/>
</g>
<g fill="none" stroke="#C00000" stroke-width="1.8"><path d="M722 60V72.5M711.8 60V72.5"/></g>
<g fill="none" stroke="#0070C0" stroke-width="1.8"><path d="M712.2 110V120M722 110V120"/></g>
<text x="735.50" y="96.20" font-size="13.4" fill="#7030A0" font-weight="bold" textLength="111.50" lengthAdjust="spacingAndGlyphs">MAGNETOTERMICO</text>
<text y="79.4" fill="#7030A0" font-weight="bold" textLength="86.8" lengthAdjust="spacingAndGlyphs" x="744.5" font-size="13.4"><tspan font-size="16.6">I</tspan>NTERRUTTORE</text>
<g font-size="13.8" fill="#7030A0" font-weight="bold">
<text x="305.50" y="91.20" textLength="43.15" lengthAdjust="spacingAndGlyphs">Sezione</text>
<text x="351.71" y="91.20" textLength="25.64" lengthAdjust="spacingAndGlyphs">cavo</text>
<text x="380.41" y="91.20" textLength="13.73" lengthAdjust="spacingAndGlyphs">10</text>
<text x="397.20" y="91.20" textLength="26.60" lengthAdjust="spacingAndGlyphs">mm²</text>
</g>
<g font-size="13.8" fill="#7030A0" font-weight="bold">
<text x="315.00" y="107.40" textLength="57.60" lengthAdjust="spacingAndGlyphs">Lunghezza</text>
<text x="375.64" y="107.40" textLength="13.65" lengthAdjust="spacingAndGlyphs">10</text>
<text x="392.34" y="107.40" textLength="10.96" lengthAdjust="spacingAndGlyphs">m</text>
</g>
<g font-size="13.8" fill="#7030A0" font-weight="bold">
<text x="598.00" y="405.00" textLength="43.24" lengthAdjust="spacingAndGlyphs">Sezione</text>
<text x="644.31" y="405.00" textLength="25.69" lengthAdjust="spacingAndGlyphs">cavo</text>
</g>
<g font-size="13.8" fill="#7030A0" font-weight="bold">
<text x="610.40" y="421.00" textLength="13.60" lengthAdjust="spacingAndGlyphs">16</text>
<text x="627.04" y="421.00" textLength="26.36" lengthAdjust="spacingAndGlyphs">mm²</text>
</g>
<g font-size="13.8" fill="#7030A0" font-weight="bold">
<text x="598.20" y="436.70" textLength="57.83" lengthAdjust="spacingAndGlyphs">Lunghezza</text>
<text x="659.09" y="436.70" textLength="6.85" lengthAdjust="spacingAndGlyphs">3</text>
<text x="669.00" y="436.70" textLength="11.00" lengthAdjust="spacingAndGlyphs">m</text>
</g>
</svg></body></html>
